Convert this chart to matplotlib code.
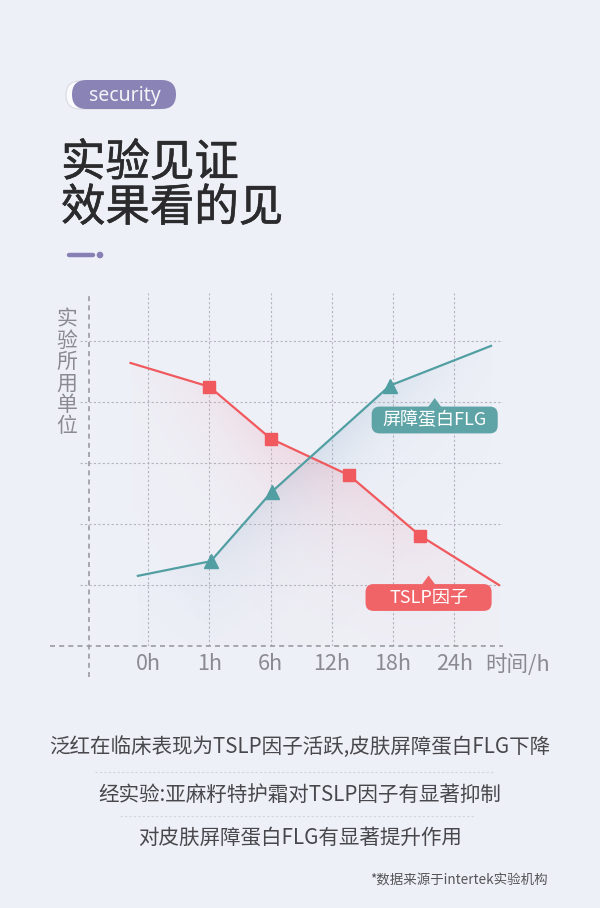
import numpy as np
import matplotlib
matplotlib.use('Agg')
import matplotlib.pyplot as plt
import matplotlib.patheffects as pe
from matplotlib.patches import FancyBboxPatch, Polygon, Circle

plt.rcParams['font.family'] = ['Noto Sans CJK SC', 'DejaVu Sans']

# ---------------- data ----------------
x_labels = ['0h', '1h', '6h', '12h', '18h', '24h']
x_unit = '时间/h'
y_label = '实验所用单位'
grid_x = [0, 1, 2, 3, 4, 5]
grid_y = [1, 2, 3, 4, 5]

tslp_name = 'TSLP因子'
tslp_x = [-0.29, 1.0, 2.0, 3.28, 4.44, 5.73]
tslp_y = [4.64, 4.25, 3.40, 2.80, 1.81, 1.00]
tslp_marked = [1, 2, 3, 4]

flg_name = '屏障蛋白FLG'
flg_x = [-0.17, 1.02, 2.02, 3.95, 5.60]
flg_y = [1.15, 1.39, 2.53, 4.27, 4.92]
flg_marked = [1, 2, 3]

# label anchors (centre of the tag boxes, in data units)
flg_tag = (4.68, 3.705)
tslp_tag = (4.58, 0.795)

badge_text = 'security'
title_lines = ['实验见证', '效果看的见']
notes = ['泛红在临床表现为TSLP因子活跃,皮肤屏障蛋白FLG下降',
         '经实验:亚麻籽特护霜对TSLP因子有显著抑制',
         '对皮肤屏障蛋白FLG有显著提升作用']
footnote = '*数据来源于intertek实验机构'

# ---------------- styles ----------------
BG = '#eef0f7'
RED = '#f05a5e'
RED_TAG = '#f06468'
TEAL = '#519fa2'
TEAL_TAG = '#5ea3a6'
PURPLE = '#8a83b6'
GRID = '#b4b5bf'
AXIS = '#9a9aa2'
TICK = '#8a8a90'
TITLE = '#2b2b2d'

W, H = 600, 908
fig = plt.figure(figsize=(W / 100, H / 100), dpi=100)
fig.patch.set_facecolor(BG)

# decoration layer in pixel coordinates
deco = fig.add_axes([0, 0, 1, 1], zorder=0)
deco.set_xlim(0, W)
deco.set_ylim(H, 0)
deco.axis('off')
deco.set_facecolor('none')

# badge
deco.add_patch(FancyBboxPatch((66, 81), 104, 28, boxstyle='round,pad=0,rounding_size=14',
                              facecolor='#fbfbfd', edgecolor='#d9dae3', lw=0.8, zorder=1))
deco.add_patch(FancyBboxPatch((72, 80), 104, 29, boxstyle='round,pad=0,rounding_size=14.5',
                              facecolor=PURPLE, edgecolor='none', zorder=2))
deco.text(125, 95.5, badge_text, color='#f4f4f8', fontsize=14, ha='center', va='center',
          family=['Noto Sans', 'DejaVu Sans'], zorder=3)

# title (regular weight, slightly thickened)
thick = [pe.withStroke(linewidth=0.45, foreground=TITLE)]
deco.text(61, 163, title_lines[0], fontsize=32, color=TITLE, ha='left', va='center',
          path_effects=thick)
deco.text(61, 208, title_lines[1], fontsize=32, color=TITLE, ha='left', va='center',
          path_effects=thick)

# small bar + dot
deco.plot([69, 93], [255, 255], color='#8780b4', lw=3.2, solid_capstyle='round')
deco.add_patch(Circle((100, 255), 2.6, color='#8780b4'))

# notes
note_y = [747, 795, 838]
for t, y in zip(notes, note_y):
    deco.text(300, y, t, fontsize=14.8, color='#48484c', ha='center', va='center')
deco.plot([95, 495], [772, 772], color='#d3d5de', lw=0.8, ls=(0, (2, 2)))
deco.plot([120, 475], [816, 816], color='#d3d5de', lw=0.8, ls=(0, (2, 2)))
deco.text(548, 881, footnote, fontsize=9.7, color='#555558', ha='right', va='center')

# ---------------- chart ----------------
x0p, x1p, y0p, y1p = 50, 503, 293, 646
ax = fig.add_axes([x0p / W, (H - y1p) / H, (x1p - x0p) / W, (y1p - y0p) / H], zorder=1)
ax.set_facecolor('none')
for s in ax.spines.values():
    s.set_visible(False)

XMIN, XMAX, YMIN, YMAX = -1.606, 5.796, 0.0, 5.787


def grad_fill(xs, ys, color, amax, decay, z):
    nx, ny = 300, 240
    gx = np.linspace(min(xs), max(xs), nx)
    gy = np.linspace(0, YMAX, ny)
    line = np.interp(gx, xs, ys)
    d = line[None, :] - gy[:, None]
    t = (gx - gx[0]) / (gx[-1] - gx[0])
    hb = 0.12 + 0.88 * np.sin(np.pi * t) ** 1.5
    alpha = np.where(d >= 0, np.exp(-d / decay), 0.0) * amax * hb[None, :]
    rgb = matplotlib.colors.to_rgb(color)
    arr = np.zeros((ny, nx, 4))
    arr[..., 0], arr[..., 1], arr[..., 2] = rgb
    arr[..., 3] = alpha
    ax.imshow(arr, extent=[gx[0], gx[-1], 0, YMAX], origin='lower',
              aspect='auto', zorder=z, interpolation='bilinear')


grad_fill(flg_x, flg_y, '#9dbad2', 0.30, 0.75, 1)
grad_fill(tslp_x, tslp_y, '#f0a0b0', 0.28, 1.1, 1.1)

# grid
ax.vlines(grid_x, 0, YMAX, colors=GRID, lw=0.8, linestyles=(0, (2, 2)), zorder=0.5)
ax.hlines(grid_y, -1.116, 5.8, colors=GRID, lw=0.8, linestyles=(0, (2, 2)), zorder=0.5)

# axes (dashed)
ax.plot([-0.964, -0.964], [-0.508, YMAX], color=AXIS, lw=1.2, ls=(0, (3, 2.5)),
        clip_on=False, zorder=2)
ax.plot([XMIN, XMAX], [0, 0], color=AXIS, lw=1.2, ls=(0, (3, 2.5)), clip_on=False, zorder=2)

# lines
ax.plot(tslp_x, tslp_y, color=RED, lw=1.6, zorder=3)
ax.plot([tslp_x[i] for i in tslp_marked], [tslp_y[i] for i in tslp_marked], ls='none',
        marker='s', ms=8.5, color=RED, zorder=4)
ax.plot(flg_x, flg_y, color=TEAL, lw=1.6, zorder=3)
ax.plot([flg_x[i] for i in flg_marked], [flg_y[i] for i in flg_marked], ls='none',
        marker='^', ms=10.5, color=TEAL, zorder=4)


# tags
def tag(center, text, color):
    cx, cy = center
    w, h = 2.06, 0.44
    ax.add_patch(FancyBboxPatch((cx - w / 2, cy - h / 2), w, h,
                                boxstyle='round,pad=0,rounding_size=0.13',
                                facecolor=color, edgecolor='none', zorder=5))
    ax.add_patch(Polygon([(cx - 0.11, cy + h / 2 - 0.01), (cx + 0.11, cy + h / 2 - 0.01),
                          (cx, cy + h / 2 + 0.14)], closed=True, facecolor=color,
                         edgecolor='none', zorder=5))
    ax.text(cx, cy, text, color='white', fontsize=13, ha='center', va='center', zorder=6)


tag(flg_tag, flg_name, TEAL_TAG)
tag(tslp_tag, tslp_name, RED_TAG)

# ticks
ax.set_xticks(grid_x)
ax.set_xticklabels(x_labels)
ax.set_yticks([])
ax.tick_params(axis='x', length=0, pad=5, labelsize=15.5, labelcolor=TICK)
ax.text(6.04, -0.31, x_unit, fontsize=15.5, color=TICK, ha='center', va='center', clip_on=False)
ax.text(-1.33, 4.48, '\n'.join(y_label), fontsize=15, color=TICK, ha='center', va='center',
        linespacing=0.97, clip_on=False)

ax.set_xlim(XMIN, XMAX)
ax.set_ylim(YMIN, YMAX)

fig.savefig('out.png', dpi=100, facecolor=BG)
